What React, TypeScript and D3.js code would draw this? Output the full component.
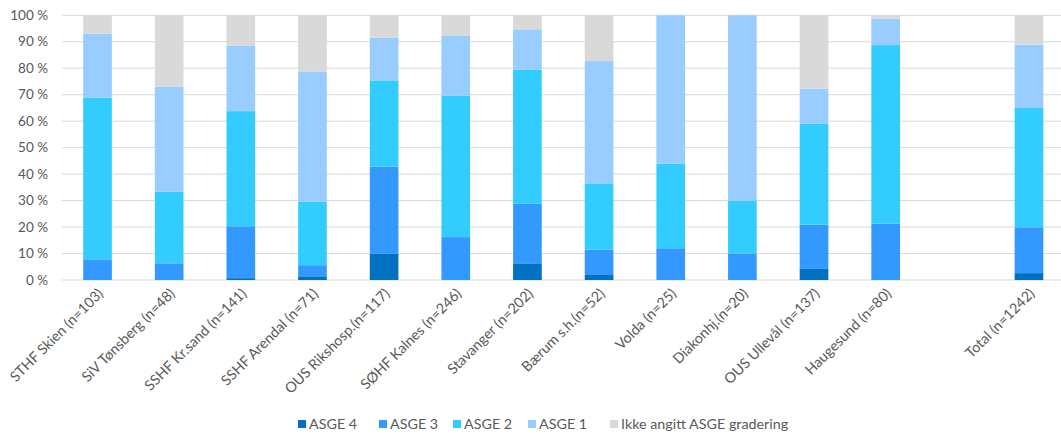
import React from "react";
import * as d3 from "d3";

const categories = [
  "STHF Skien (n=103)",
  "SiV Tønsberg (n=48)",
  "SSHF Kr.sand (n=141)",
  "SSHF Arendal (n=71)",
  "OUS Rikshosp.(n=117)",
  "SØHF Kalnes (n=246)",
  "Stavanger (n=202)",
  "Bærum s.h.(n=52)",
  "Volda (n=25)",
  "Diakonhj.(n=20)",
  "OUS Ullevål (n=137)",
  "Haugesund (n=80)",
  "",
  "Total (n=1242)",
];

const seriesNames = ["ASGE 4", "ASGE 3", "ASGE 2", "ASGE 1", "Ikke angitt ASGE gradering"];
const seriesColors = ["#0070C0", "#3399FF", "#33CCFF", "#99CCFF", "#D9D9D9"];

const asge4 = [0, 0, 0.7, 1.4, 9.9, 0, 6.3, 1.9, 0, 0, 4.4, 0, 0, 2.6];
const asge3 = [7.8, 6.3, 19.6, 4.2, 32.9, 16.2, 22.5, 9.6, 12, 10, 16.5, 21.25, 0, 17.3];
const asge2 = [61.1, 27.1, 43.5, 23.9, 32.6, 53.5, 50.6, 25.0, 32, 20, 38.2, 67.5, 0, 45.1];
const asge1 = [24.1, 39.6, 24.7, 49.3, 16.1, 22.7, 15.3, 46.2, 56, 70, 13.2, 10, 0, 23.9];
const ikke = [7.0, 27.0, 11.5, 21.2, 8.5, 7.6, 5.3, 17.3, 0, 0, 27.7, 1.25, 0, 11.1];

const yTicks = [0, 10, 20, 30, 40, 50, 60, 70, 80, 90, 100];

const W = 1061;
const H = 435;
const FONT = "Lato, 'Open Sans', sans-serif";
const TEXT = "#595959";

export default function App() {
  const seriesValues = [asge4, asge3, asge2, asge1, ikke];
  const rows = categories.map((c, i) => {
    const r: any = { cat: c };
    seriesNames.forEach((s, k) => (r[s] = seriesValues[k][i]));
    return r;
  });
  const stacked = d3.stack().keys(seriesNames)(rows);

  const x = d3
    .scaleBand()
    .domain(categories.map((c, i) => c || `__blank${i}`))
    .range([61.7, 1064.8])
    .paddingInner(0.6)
    .paddingOuter(0.3);
  const key = (i: number) => categories[i] || `__blank${i}`;
  const y = d3.scaleLinear().domain([0, 100]).range([280, 15.3]);

  const legendX = [298, 379, 453, 528, 610];

  return (
    <svg
      width={W}
      height={H}
      style={{ position: "absolute", left: 0, top: 0, background: "#fff" }}
      fontFamily={FONT}
    >
      <rect x={0} y={0} width={W} height={H} fill="#fff" />
      {yTicks.map((t) => (
        <g key={t}>
          <line x1={61.7} x2={W} y1={y(t)} y2={y(t)} stroke="#D9D9D9" strokeWidth={1} />
          <text x={48} y={y(t)} dy="0.35em" textAnchor="end" fontSize={13.5} fill={TEXT}>
            {`${t} %`}
          </text>
        </g>
      ))}
      {stacked.map((s, k) => (
        <g key={s.key} fill={seriesColors[k]}>
          {s.map((d, i) =>
            d[1] - d[0] > 0 ? (
              <rect
                key={i}
                x={x(key(i))}
                width={x.bandwidth()}
                y={y(d[1])}
                height={y(d[0]) - y(d[1])}
              />
            ) : null
          )}
        </g>
      ))}
      {categories.map((c, i) =>
        c ? (
          <text
            key={c}
            transform={`translate(${(x(key(i)) as number) + x.bandwidth() / 2 + 3},${291}) rotate(-45)`}
            textAnchor="end"
            fontSize={14.3}
            fill={TEXT}
            dy="0.35em"
          >
            {c}
          </text>
        ) : null
      )}
      {seriesNames.map((s, k) => (
        <g key={s} transform={`translate(${legendX[k]},${424})`}>
          <rect x={0} y={-4} width={8} height={8} fill={seriesColors[k]} />
          <text x={11} y={0} dy="0.35em" fontSize={14.3} fill={TEXT}>
            {s}
          </text>
        </g>
      ))}
    </svg>
  );
}
